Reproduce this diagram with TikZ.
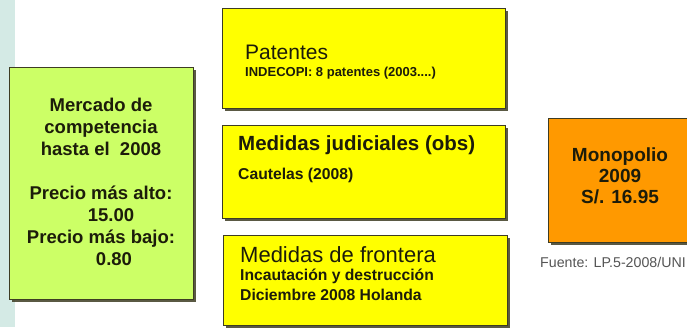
\documentclass[tikz,border=0pt]{standalone}
\usepackage{fontspec}
\setmainfont{Liberation Sans}
\usetikzlibrary{shadows}
\definecolor{strip}{RGB}{212,234,229}
\definecolor{lime}{RGB}{204,255,102}
\definecolor{yel}{RGB}{255,255,0}
\definecolor{org}{RGB}{255,153,0}
\definecolor{edge}{RGB}{62,60,35}
\definecolor{ink}{RGB}{28,28,10}
\definecolor{fuente}{RGB}{85,85,85}
\tikzset{
  box/.style={draw=edge, line width=1.2pt, inner sep=0pt, anchor=north west,
    drop shadow={shadow xshift=2.5pt, shadow yshift=-2.5pt, fill=edge, opacity=0.85}},
  lbl/.style={anchor=base west, inner sep=0pt, text=ink},
  big/.style={font=\fontsize{21}{25}\selectfont},
  bigb/.style={font=\bfseries\fontsize{20.5}{24}\selectfont},
  small/.style={font=\bfseries\fontsize{15.7}{20}\selectfont},
}
\begin{document}
\begin{tikzpicture}[x=1pt,y=-1pt]
\clip (0,0) rectangle (687,327);
\fill[white] (0,0) rectangle (687,327);
\fill[strip] (0,0) rectangle (15,327);

% boxes
\node[box, fill=lime, minimum width=184pt, minimum height=232pt] (mercado) at (9,67) {};
\node[box, fill=yel, minimum width=283pt, minimum height=100pt] (patentes) at (222,8) {};
\node[box, fill=yel, minimum width=283pt, minimum height=93pt] (judiciales) at (222,125) {};
\node[box, fill=yel, minimum width=284pt, minimum height=90pt] (frontera) at (223,235) {};
\node[box, fill=org, minimum width=150pt, minimum height=124pt] (mono) at (548,118) {};

% green text
\node[inner sep=0pt, text=ink, align=center, font=\bfseries\fontsize{18.5}{22}\selectfont] (mtext) at (101,182)
  {Mercado de\\competencia\\hasta el\ \ 2008\\[22pt]Precio más alto:\\\hspace*{20pt}15.00\\Precio más bajo:\\\hspace*{26pt}0.80};

% yellow texts
\node[lbl, big] (t1) at (245,59) {Patentes};
\node[lbl, font=\bfseries\fontsize{13}{16}\selectfont] (t1b) at (245,76) {INDECOPI: 8 patentes (2003....)};
\node[lbl, bigb] (t2) at (238,150) {Medidas judiciales (obs)};
\node[lbl, small] (t2b) at (238,179) {Cautelas (2008)};
\node[lbl, font=\fontsize{22}{26}\selectfont] (t3) at (240,262) {Medidas de frontera};
\node[lbl, small] (t3b) at (240,280) {Incautación y destrucción};
\node[lbl, small] (t3c) at (240,300) {Diciembre 2008 Holanda};

% orange text
\node[inner sep=0pt, text=ink, align=center, font=\bfseries\fontsize{19}{21}\selectfont] (motext) at (620,176)
  {Monopolio\\2009\\S/. 16.95};

% source
\node[anchor=base west, inner sep=0pt, text=fuente, font=\fontsize{14.2}{17}\selectfont] (src) at (540,267) {Fuente: LP.5-2008/UNI};
\end{tikzpicture}
\end{document}
